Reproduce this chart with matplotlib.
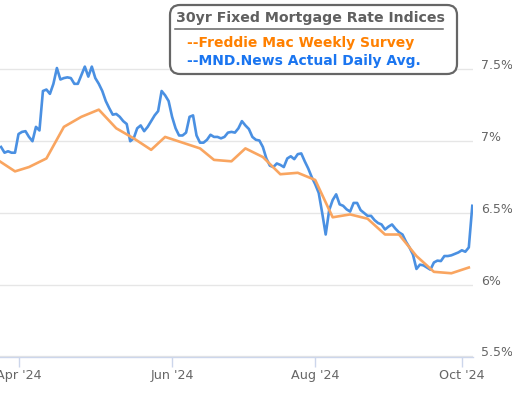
import numpy as np
import pandas as pd
import matplotlib
matplotlib.use("Agg")
import matplotlib.pyplot as plt
from matplotlib.patches import FancyBboxPatch
from matplotlib.transforms import ScaledTranslation

# trading days (bond market holidays skipped), Mar 21 .. Oct 4 2024
holidays = ["2024-03-29", "2024-05-27", "2024-06-19", "2024-07-04", "2024-09-02"]
days = pd.bdate_range("2024-03-21", "2024-10-04", freq="C", holidays=holidays)
pos = pd.Series(np.arange(len(days)) - 1, index=days)

# MND daily average, Mar 22 .. Oct 4
mnd = [6.96, 6.92, 6.93, 6.92, 6.92, 7.05, 7.065, 7.07, 7.03, 7.00,
       7.10, 7.075, 7.35, 7.36, 7.33, 7.40, 7.51, 7.43, 7.44, 7.445,
       7.44, 7.40, 7.40, 7.46, 7.52, 7.45, 7.52, 7.44, 7.40, 7.35,
       7.28, 7.23, 7.185, 7.19, 7.17, 7.14, 7.12, 7.00, 7.02, 7.09,
       7.11, 7.07, 7.10, 7.14, 7.18, 7.21, 7.35, 7.32, 7.28, 7.17,
       7.09, 7.04, 7.04, 7.06, 7.17, 7.18, 7.04, 6.99, 6.99, 7.01,
       7.045, 7.03, 7.03, 7.02, 7.03, 7.06, 7.065, 7.06, 7.09, 7.14,
       7.11, 7.085, 7.03, 7.01, 7.005, 6.96, 6.88, 6.83, 6.82, 6.845,
       6.835, 6.82, 6.88, 6.895, 6.875, 6.91, 6.915, 6.86, 6.81, 6.75,
       6.70, 6.64, 6.50, 6.35, 6.52, 6.59, 6.63, 6.56, 6.55, 6.525,
       6.51, 6.57, 6.57, 6.52, 6.50, 6.48, 6.48, 6.45, 6.43, 6.42,
       6.385, 6.405, 6.42, 6.39, 6.365, 6.35, 6.30, 6.26, 6.21, 6.11,
       6.14, 6.135, 6.12, 6.105, 6.155, 6.168, 6.165, 6.20, 6.20, 6.205,
       6.215, 6.225, 6.24, 6.23, 6.26, 6.55]

# Freddie Mac weekly survey
fm_dates = ["2024-03-21", "2024-03-28", "2024-04-04", "2024-04-11", "2024-04-18",
            "2024-04-25", "2024-05-02", "2024-05-09", "2024-05-16", "2024-05-23",
            "2024-05-30", "2024-06-06", "2024-06-13", "2024-06-20", "2024-06-27",
            "2024-07-03", "2024-07-11", "2024-07-18", "2024-07-25", "2024-08-01",
            "2024-08-08", "2024-08-15", "2024-08-22", "2024-08-29", "2024-09-05",
            "2024-09-12", "2024-09-19", "2024-09-26", "2024-10-03"]
fm = [6.87, 6.79, 6.82, 6.88, 7.10, 7.17, 7.22, 7.09, 7.02, 6.94,
      7.03, 6.99, 6.95, 6.87, 6.86, 6.95, 6.89, 6.77, 6.78, 6.73,
      6.47, 6.49, 6.46, 6.35, 6.35, 6.20, 6.09, 6.08, 6.12]

tick_dates = ["2024-04-01", "2024-06-03", "2024-08-01", "2024-10-01"]
tick_labels = ["Apr '24", "Jun '24", "Aug '24", "Oct '24"]
y_ticks = [5.5, 6.0, 6.5, 7.0, 7.5]
y_labels = ["5.5%", "6%", "6.5%", "7%", "7.5%"]

W, H = 512, 398
fig = plt.figure(figsize=(W / 100, H / 100), dpi=100)
ax = fig.add_axes([0, 41.5 / H, 473 / W, 356.5 / H])

x_mnd = pos.values[1:]
x_fm = pos[pd.to_datetime(fm_dates)].values
ax.plot(x_mnd, mnd, color="#4a90e2", lw=1.9, solid_joinstyle="round", zorder=3)
ax.plot(x_fm, fm, color="#f9a560", lw=1.9, solid_joinstyle="round", zorder=4)

ax.set_xlim(-0.3, 135.2)
ax.set_ylim(5.5, 7.984)

for s in ["top", "left", "right"]:
    ax.spines[s].set_visible(False)
ax.spines["bottom"].set_color("#ccd6eb")
ax.spines["bottom"].set_linewidth(1)

ax.set_yticks(y_ticks)
ax.set_yticklabels(y_labels)
ax.yaxis.tick_right()
ax.tick_params(axis="y", length=0, pad=5.8, labelsize=9, labelcolor="#666666")
off = ScaledTranslation(0, 5 / 100, fig.dpi_scale_trans)
for lab in ax.get_yticklabels():
    lab.set_transform(lab.get_transform() + off)
ax.grid(axis="y", color="#e6e6e6", lw=1)
ax.set_axisbelow(True)

ax.set_xticks(pos[pd.to_datetime(tick_dates)].values)
ax.set_xticklabels(tick_labels)
ax.tick_params(axis="x", length=7.2, width=1, color="#ccd6eb", pad=2,
               labelsize=9.2, labelcolor="#666666")

# legend box
box = FancyBboxPatch((170, H - 74), 287, 69, boxstyle="round,pad=0,rounding_size=10",
                     transform=None, facecolor="white", edgecolor="#666666",
                     lw=1.6, zorder=10)
fig.patches.append(box)
fig.text(310 / W, 1 - 18 / H, "30yr Fixed Mortgage Rate Indices", ha="center",
         va="center", fontsize=10.2, fontweight="bold", color="#606060", zorder=11)
fig.add_artist(plt.Line2D([175 / W, 443 / W], [1 - 29 / H, 1 - 29 / H],
                          color="#666666", lw=1.1, zorder=11))
fig.text(187 / W, 1 - 42.5 / H, "--Freddie Mac Weekly Survey", ha="left",
         va="center", fontsize=10, fontweight="bold", color="#ff8000", zorder=11)
fig.text(187 / W, 1 - 61 / H, "--MND.News Actual Daily Avg.", ha="left",
         va="center", fontsize=10, fontweight="bold", color="#1a75f0", zorder=11)

fig.savefig("out.png", dpi=100)
